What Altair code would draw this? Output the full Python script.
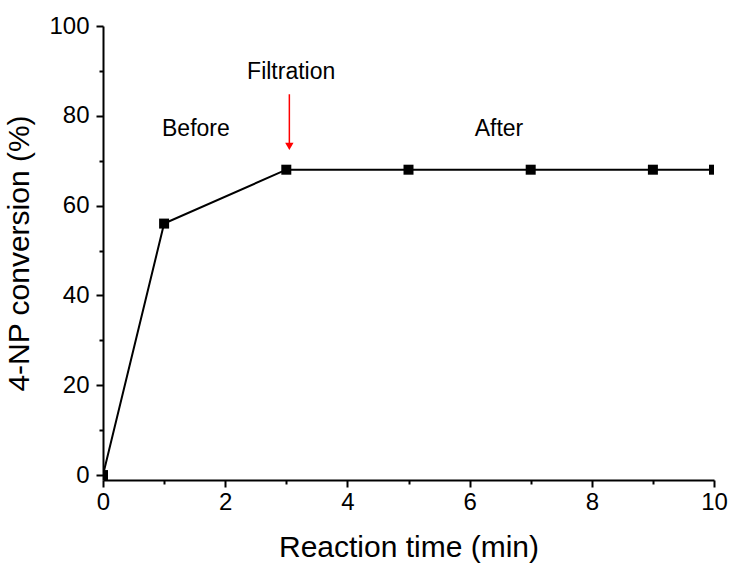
import altair as alt
import pandas as pd

# Conversion of 4-NP over reaction time (filtration at 3 min)
time_min = [0, 1, 3, 5, 7, 9, 10]
conversion = [0, 56, 68, 68, 68, 68, 68]

x_ticks = [0, 1, 2, 3, 4, 5, 6, 7, 8, 9, 10]
y_ticks = [0, 10, 20, 30, 40, 50, 60, 70, 80, 90, 100]

label_text = ["Before", "After", "Filtration"]
label_x = [1.52, 6.48, 3.08]
label_y = [77.1, 77.1, 89.8]

arrow_x = [3.05]
arrow_top = [84.8]
arrow_tip = [73.2]

df = pd.DataFrame({"t": time_min, "c": conversion})
labels = pd.DataFrame({"x": label_x, "y": label_y, "text": label_text})
arrow = pd.DataFrame({"x": arrow_x, "y": arrow_top, "y2": arrow_tip})

FONT = "Liberation Sans"
xs = alt.Scale(domain=[0, 10], nice=False, zero=False)
ys = alt.Scale(domain=[-1.1, 100], nice=False, zero=False)

# major ticks long and labelled, minor ticks short and blank
x_axis = alt.Axis(
    values=x_ticks, format="d", labelFlush=False,
    tickSize={"condition": {"test": "datum.value % 2 === 0", "value": 7}, "value": 4},
    labelExpr="datum.value % 2 === 0 ? datum.label : ''",
    labelPadding=3, title="Reaction time (min)", titlePadding=18)
y_axis = alt.Axis(
    values=y_ticks, format="d", labelFlush=False,
    tickSize={"condition": {"test": "datum.value % 20 === 0", "value": 7}, "value": 4},
    labelExpr="datum.value % 20 === 0 ? datum.label : ''",
    labelPadding=7, title="4-NP conversion (%)", titlePadding=14)

line = alt.Chart(df).mark_line(color="black", strokeWidth=2, clip=True).encode(
    x=alt.X("t:Q", scale=xs, axis=x_axis),
    y=alt.Y("c:Q", scale=ys, axis=y_axis),
)

pts = alt.Chart(df).mark_point(shape="square", filled=True, color="black",
                               size=100, opacity=1, clip=True).encode(
    x=alt.X("t:Q", scale=xs), y=alt.Y("c:Q", scale=ys))

arrow_shaft = alt.Chart(arrow).mark_rule(color="#ff0000", strokeWidth=1.5).encode(
    x=alt.X("x:Q", scale=xs), y=alt.Y("y:Q", scale=ys), y2="y2:Q")
arrow_head = alt.Chart(arrow).mark_point(
    shape="triangle-down", filled=True, color="#ff0000", size=70, opacity=1
).encode(x=alt.X("x:Q", scale=xs), y=alt.Y("y2:Q", scale=ys))

text = alt.Chart(labels).mark_text(font=FONT, fontSize=23, color="black").encode(
    x=alt.X("x:Q", scale=xs), y=alt.Y("y:Q", scale=ys), text="text:N")

chart = alt.layer(line, pts, arrow_shaft, arrow_head, text).properties(
    width=611, height=454,
    autosize=alt.AutoSizeParams(type="none"),
    padding={"left": 103, "top": 26, "right": 20, "bottom": 83},
).configure(background="white").configure_view(
    strokeWidth=0
).configure_axis(
    domainColor="black", domainWidth=2, tickColor="black", tickWidth=2,
    labelFont=FONT, labelFontSize=24, labelColor="black",
    titleFont=FONT, titleFontSize=30, titleColor="black", titleFontWeight="normal",
    grid=False,
)

chart.save("out.html", embed_options={"renderer": "svg", "actions": False})
